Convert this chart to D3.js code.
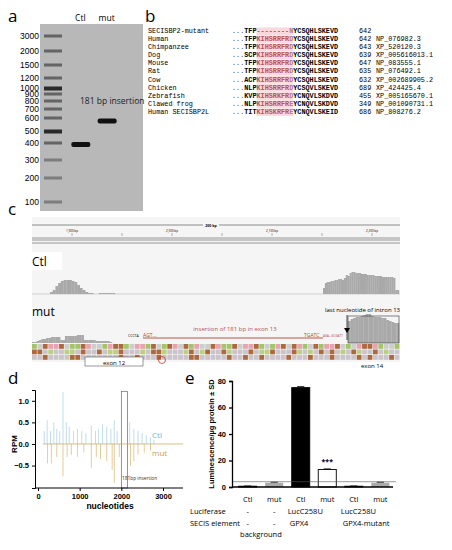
<!DOCTYPE html>
<html><head><meta charset="utf-8">
<script src="https://cdn.jsdelivr.net/npm/d3@7"></script>
<style>body{margin:0;background:#fff}svg{font-family:"Open Sans",Arial,sans-serif}</style>
</head><body><div id="chart"></div>
<script>
// panel a
const ladderSizes = [3000,2000,1500,1200,1000,900,800,700,600,500,400,300,200,100];
const ladderY = [36,51,65,78,88,94,101,109,118,131,143,160,178,202];
const ladderStrong = [1000,500];
const laneNames = ["Ctl","mut"];
const laneBands = [390, 571];
// panel b
const species = ["SECISBP2-mutant","Human","Chimpanzee","Dog","Mouse","Rat","Cow","Chicken","Zebrafish","Clawed frog","Human SECISBP2L"];
const seqPre = ["TFP","TFP","TFP","SCP","TFP","TFP","ACP","NLP","KVP","NLP","TIT"];
const seqMid = ["--------N","KIHSRRFRD","KIHSRRFRD","KIHSRRFRD","KIHSRRFRD","KIHSRRFRD","KIHSRRFRD","KIHSRRFRD","KIHSRKFRD","KIHSRRFRE","KIHSKRFRE"];
const seqPost = ["YCSQHLSKEVD","YCSQHLSKEVD","YCSQHLSKEVD","YCSQHLSKEVD","YCSQHLSKEVD","YCSQHLSKEVD","YCSQHLSKEVD","YCSQVLSKEVD","YCNQVLSKDVD","YCNQVLSKDVD","YCNQVLSKEID"];
const seqEnd = [642,642,643,639,647,635,632,689,455,349,686];
const accession = ["","NP_076982.3","XP_520120.3","XP_005616013.1","NP_083555.1","NP_076492.1","XP_002689905.2","XP_424425.4","XP_005165670.1","NP_001090731.1","NP_808276.2"];
// panel c
const rulerLabels = ["1,900 bp","2,000 bp","2,100 bp","2,200 bp"];
const ctlLeft = [2,4,8,11,13,14,14,14,13,12,9,6,4,2,1,1,0,0,1,1,1,1,1,1];
const ctlRight = [6,11,12,12,13,13,14,14,15,15,14,16,19,18,21,22,22,21,21,21,20,20,20,19,19,19,19,18,18,18,18,17,17,17,17,17,17,16,4,4];
const mutLeft = [1,1,2,3,4,4,5,5,6,6,6,6,3,3,7,7,7,7,7,8,8,8,3,3,3,3,3,2,2,2,2,2,2,1];
const mutRight = [22,24,25,26,26,27,28,29,29,27,26,26,26,25,25,23,22,21,20,20];
const baseRow = "ACGTTGCAAGTCCATGGACTTAGCAGTCGATCCGTAAGCTTGACATGCGTACGATTGCACTGGTACCA";
// panel d
const ctlSpikes = [[150,0.3],[220,0.55],[300,0.3],[380,0.5],[450,0.35],[520,0.3],[600,1.2],[680,0.5],[750,0.4],[850,0.3],[950,0.35],[1050,0.3],[1150,0.25],[1280,0.42],[1380,0.3],[1450,0.35],[1550,0.45],[1650,0.4],[1750,0.35],[1830,0.55],[1900,0.3],[2200,0.5],[2300,0.35],[2400,0.3],[2500,0.25],[2600,0.2],[2700,0.15],[2780,0.1]];
const mutSpikes = [[230,-0.45],[320,-0.45],[450,-0.3],[600,-0.75],[700,-0.3],[800,-0.25],[950,-0.3],[1100,-0.2],[1280,-0.55],[1400,-0.3],[1500,-0.35],[1650,-0.4],[1780,-0.6],[1830,-0.9],[1950,-0.3],[2220,-0.5],[2300,-0.4],[2400,-0.25],[2550,-0.2],[2700,-0.15]];
const dTicksX = [0,1000,2000,3000];
const dTicksY = [-0.5,0,0.5,1.0];
// panel e
const eCats = ["Ctl","mut","Ctl","mut","Ctl","mut"];
const eValues = [0.6,3.2,75,13.2,0.6,3.2];
const eErr = [0.2,0.4,0.8,0.5,0.2,0.4];
const eFill = ["#000","#aaa","#000","#fff","#000","#aaa"];
const luciferase = ["-","-","LucC258U","","LucC258U",""];
const secis = ["-","-","GPX4","","GPX4-mutant",""];
const eTicks = [0,20,40,60,80];

const svg = d3.select("#chart").append("svg").attr("width",452).attr("height",550);
const lab = (t,x,y)=>svg.append("text").attr("x",x).attr("y",y).attr("font-size",17).text(t);

// ---- a
lab("a",8,22);
svg.append("rect").attr("x",40).attr("y",24).attr("width",103).attr("height",187).attr("fill","#b8b8b8");
const ya = d3.scaleOrdinal().domain(ladderSizes).range(ladderY);
svg.append("g").selectAll("text").data(ladderSizes).join("text")
  .attr("x",39).attr("y",d=>ya(d)+3).attr("text-anchor","end").attr("font-size",8.5).attr("font-family","Arial").text(d=>d);
svg.append("g").selectAll("rect").data(ladderSizes).join("rect")
  .attr("x",44).attr("width",18).attr("y",d=>ya(d)-1.5).attr("height",d=>ladderStrong.includes(d)?4:3)
  .attr("fill",d=>ladderStrong.includes(d)?"#111":"#555").attr("opacity",d=>d<=300?0.6:0.85);
const bandY = d3.scaleLog().domain([400,600]).range([143,118]);
const xa = d3.scaleBand().domain(laneNames).range([66,120]).padding(0.05);
svg.append("g").selectAll("rect").data(laneNames).join("rect")
  .attr("x",d=>xa(d)+4).attr("width",19).attr("y",(d,i)=>bandY(laneBands[i])-2.5).attr("height",5).attr("rx",2).attr("fill","#111");
svg.append("g").selectAll("text").data(laneNames).join("text")
  .attr("x",d=>xa(d)+13).attr("y",21).attr("text-anchor","middle").attr("font-size",8.5).text(d=>d);
svg.append("text").attr("x",80).attr("y",104).attr("font-size",8.5).attr("fill","#222").text("181 bp insertion");

// ---- b
lab("b",145,22);
const mono = "Liberation Mono, DejaVu Sans Mono, monospace";
const yb = d3.scaleBand().domain(species).range([27,116]);
const gb = svg.append("g").attr("font-family",mono).attr("font-size",6.8);
gb.selectAll(".nm").data(species).join("text").attr("x",148).attr("y",d=>yb(d)+6).text(d=>d);
const cw = 4.08;
gb.selectAll(".hl").data(species).join("rect").attr("x",232+6*cw).attr("y",d=>yb(d)+0.5).attr("width",9*cw).attr("height",7.6).attr("fill","#fbd9dc");
species.forEach((s,i)=>{
  const t = gb.append("text").attr("x",232).attr("y",yb(s)+6).attr("font-weight","bold");
  t.append("tspan").attr("fill","#666").text("...");
  t.append("tspan").text(seqPre[i]);
  t.append("tspan").attr("fill","#c0504d").text(seqMid[i].slice(0,8));
  t.append("tspan").attr("fill","#b07a9a").text(seqMid[i].slice(8));
  t.append("tspan").text(seqPost[i]);
});
gb.selectAll(".n").data(seqEnd).join("text").attr("x",359).attr("y",(d,i)=>yb(species[i])+6).text(d=>d);
gb.selectAll(".ac").data(accession).join("text").attr("x",376).attr("y",(d,i)=>yb(species[i])+6).text(d=>d);

// ---- c
lab("c",8,215);
svg.append("rect").attr("x",32).attr("y",217).attr("width",368).attr("height",145).attr("fill","#f5f5f5");
svg.append("line").attr("x1",32).attr("x2",400).attr("y1",225).attr("y2",225).attr("stroke","#444").attr("stroke-width",0.6);
svg.append("rect").attr("x",203).attr("y",222).attr("width",16).attr("height",6).attr("fill","#f5f5f5");
svg.append("text").attr("x",211).attr("y",227).attr("text-anchor","middle").attr("font-size",3.5).attr("font-weight","bold").text("200 bp");
const xr = d3.scalePoint().domain(rulerLabels).range([72,372]);
svg.append("g").selectAll("text").data(rulerLabels).join("text").attr("x",d=>xr(d)).attr("y",232).attr("text-anchor","middle").attr("font-size",3).text(d=>d);
svg.append("g").selectAll("line").data(d3.range(7)).join("line").attr("x1",d=>72+d*50).attr("x2",d=>72+d*50).attr("y1",233).attr("y2",236).attr("stroke","#666").attr("stroke-width",0.5);
[238,240,243].forEach(y=>svg.append("line").attr("x1",32).attr("x2",400).attr("y1",y).attr("y2",y).attr("stroke","#555").attr("stroke-width",0.6));
svg.append("rect").attr("x",32).attr("y",252).attr("width",30).attr("height",18).attr("fill","#fff");
svg.append("text").attr("x",32).attr("y",266).attr("font-size",12).text("Ctl");
function cover(data,x0,w,base,scale){
  const x = d3.scaleBand().domain(d3.range(data.length)).range([x0,x0+w]).padding(0);
  svg.append("g").selectAll("rect").data(data).join("rect").attr("x",(d,i)=>x(i)).attr("width",x.bandwidth()+0.2)
    .attr("y",d=>base-d*scale).attr("height",d=>d*scale).attr("fill","#a9a9a9");
}
svg.append("line").attr("x1",32).attr("x2",400).attr("y1",294).attr("y2",294).attr("stroke","#bbb").attr("stroke-width",0.6);
cover(ctlLeft,50,65,294,1);
cover(ctlRight,323,76,294,1);
svg.append("text").attr("x",32).attr("y",316).attr("font-size",12).text("mut");
cover(mutLeft,32,80,343,1);
cover(mutRight,348,51,343,1);
svg.append("rect").attr("x",348).attr("y",316).attr("width",51).attr("height",27).attr("fill","none").attr("stroke","#333").attr("stroke-width",0.6);
const baseCol = {A:"#9bbf5a",C:"#c9c9c9",G:"#a45a2a",T:"#e59aa8"};
const xs = d3.scaleBand().domain(d3.range(baseRow.length)).range([32,400]);
[0,1,2].forEach(r=>{
  svg.append("g").selectAll("rect").data(baseRow.split("")).join("rect")
    .attr("x",(d,i)=>xs((i+r*7)%baseRow.length)).attr("width",xs.bandwidth()-0.6).attr("y",344+r*5.5).attr("height",4.8)
    .attr("fill",d=>r===0?baseCol[d]:(d==="G"?"#a45a2a":d==="A"&&r===1?"#b6cc77":"#c7bfc7")).attr("opacity",0.9);
});
svg.append("text").attr("x",235).attr("y",331).attr("text-anchor","middle").attr("font-size",6).attr("fill","#c0504d").text("insertion of 181 bp in exon 13");
svg.append("line").attr("x1",143).attr("x2",323).attr("y1",338).attr("y2",338).attr("stroke","#b8433a").attr("stroke-width",0.9);
svg.append("text").attr("x",128).attr("y",337).attr("font-size",3.5).text("CCCTA");
svg.append("text").attr("x",143).attr("y",337).attr("font-size",5).attr("fill","#b8433a").text("AGT...");
svg.append("text").attr("x",304).attr("y",337).attr("font-size",5).attr("fill","#b8433a").text("TGATC");
svg.append("text").attr("x",323).attr("y",337).attr("font-size",3).attr("fill","#b8433a").text("AGA...GCGATT");
svg.append("text").attr("x",400).attr("y",312).attr("text-anchor","end").attr("font-size",6).text("last nucleotide of intron 13");
svg.append("line").attr("x1",347).attr("x2",347).attr("y1",315).attr("y2",340).attr("stroke","#000").attr("stroke-width",0.7);
svg.append("path").attr("d","M344,328 L350,328 L347,333 Z").attr("fill","#000");
svg.append("rect").attr("x",85).attr("y",357).attr("width",58).attr("height",9).attr("fill","#fff").attr("stroke","#555").attr("stroke-width",0.6);
svg.append("text").attr("x",114).attr("y",364.5).attr("text-anchor","middle").attr("font-size",6).text("exon 12");
svg.append("circle").attr("cx",162).attr("cy",360).attr("r",3.5).attr("fill","none").attr("stroke","#c0392b").attr("stroke-width",0.8);
svg.append("text").attr("x",372).attr("y",368).attr("text-anchor","middle").attr("font-size",6).text("exon 14");

// ---- d
lab("d",8,384);
const xd = d3.scaleLinear().domain([0,3000]).range([38,163]);
const yd = d3.scaleLinear().domain([-1.02,1.25]).range([488,390]);
svg.append("rect").attr("x",xd(2000)).attr("y",yd(1.22)).attr("width",xd(2150)-xd(2000)).attr("height",yd(-1.02)-yd(1.22)).attr("fill","#fff").attr("stroke","#666").attr("stroke-width",0.7);
svg.append("line").attr("x1",xd(120)).attr("x2",183).attr("y1",yd(0)).attr("y2",yd(0)).attr("stroke","#c9a050").attr("stroke-width",0.7);
svg.append("g").selectAll("line").data(ctlSpikes).join("line").attr("x1",d=>xd(d[0])).attr("x2",d=>xd(d[0])).attr("y1",yd(0)).attr("y2",d=>yd(d[1])).attr("stroke","#8fc3e3").attr("stroke-width",0.7).attr("opacity",0.8);
svg.append("g").selectAll("line").data(mutSpikes).join("line").attr("x1",d=>xd(d[0])).attr("x2",d=>xd(d[0])).attr("y1",yd(0)).attr("y2",d=>yd(d[1])).attr("stroke","#d2a548").attr("stroke-width",0.7).attr("opacity",0.8);
svg.append("g").attr("transform","translate(0,488)").call(d3.axisBottom(xd).tickValues(dTicksX).tickFormat(d3.format("d")).tickSize(3)).call(g=>g.select(".domain").attr("d","M35,0H183"))
  .selectAll("text").attr("font-size",7.5).attr("font-weight","bold").attr("font-family","Arial");
svg.append("g").attr("transform","translate(35,0)").call(d3.axisLeft(yd).tickValues(dTicksY).tickFormat(d3.format(".1f")).tickSize(3))
  .selectAll("text").attr("font-size",7.5).attr("font-weight","bold").attr("font-family","Arial");
svg.append("text").attr("transform","translate(17,444) rotate(-90)").attr("text-anchor","middle").attr("font-size",8).attr("font-weight","bold").attr("font-family","Arial").text("RPM");
svg.append("text").attr("x",110).attr("y",509).attr("text-anchor","middle").attr("font-size",8.5).attr("font-weight","bold").attr("font-family","Arial").text("nucleotides");
svg.append("text").attr("x",152).attr("y",438).attr("font-size",8).attr("fill","#6fb1dc").text("Ctl");
svg.append("text").attr("x",152).attr("y",456).attr("font-size",8).attr("fill","#c9a050").text("mut");
svg.append("text").attr("x",122).attr("y",480).attr("font-size",4.8).attr("fill","#333").text("181bp insertion");

// ---- e
lab("e",185,384);
const xe = d3.scaleBand().domain(d3.range(6)).range([236,392]).paddingInner(0.32).paddingOuter(0.1);
const ye = d3.scaleLinear().domain([0,80]).range([487,381]);
svg.append("g").selectAll("rect").data(eValues).join("rect").attr("x",(d,i)=>xe(i)).attr("width",xe.bandwidth())
  .attr("y",d=>ye(d)).attr("height",d=>ye(0)-ye(d)).attr("fill",(d,i)=>eFill[i]).attr("stroke","#000").attr("stroke-width",(d,i)=>eFill[i]==="#aaa"?0:0.9);
svg.append("g").selectAll("line").data(eValues).join("line").attr("x1",(d,i)=>xe(i)+xe.bandwidth()*0.3).attr("x2",(d,i)=>xe(i)+xe.bandwidth()*0.7)
  .attr("y1",(d,i)=>ye(d+eErr[i])).attr("y2",(d,i)=>ye(d+eErr[i])).attr("stroke","#000").attr("stroke-width",0.8);
svg.append("line").attr("x1",232).attr("x2",396).attr("y1",ye(4)).attr("y2",ye(4)).attr("stroke","#555").attr("stroke-width",0.6);
svg.append("text").attr("x",xe(3)+xe.bandwidth()/2).attr("y",ye(17)).attr("text-anchor","middle").attr("font-size",7).attr("font-weight","bold").text("***");
svg.append("g").attr("transform","translate(232,0)").call(d3.axisLeft(ye).tickValues(eTicks).tickSize(3))
  .call(g=>g.selectAll("path,line").attr("stroke-width",1.3))
  .selectAll("text").attr("font-size",7.5).attr("font-weight","bold").attr("font-family","Arial");
svg.append("line").attr("x1",232).attr("x2",393).attr("y1",487).attr("y2",487).attr("stroke","#000").attr("stroke-width",1.3);
svg.append("text").attr("transform","translate(214,434) rotate(-90)").attr("text-anchor","middle").attr("font-size",7.5).attr("font-weight","bold").attr("font-family","Arial").text("Luminescence/µg protein ± SD");
svg.append("g").selectAll("text").data(eCats).join("text").attr("x",(d,i)=>xe(i)+xe.bandwidth()/2).attr("y",502).attr("text-anchor","middle").attr("font-size",7.5).text(d=>d);
svg.append("g").selectAll("text").data(luciferase).join("text").attr("x",(d,i)=>d==="-"?xe(i)+xe.bandwidth()/2:xe(i)-4).attr("y",514).attr("text-anchor",d=>d==="-"?"middle":"start").attr("font-size",7.5).text(d=>d);
svg.append("g").selectAll("text").data(secis).join("text").attr("x",(d,i)=>d==="-"?xe(i)+xe.bandwidth()/2:xe(i)-2).attr("y",526).attr("text-anchor",d=>d==="-"?"middle":"start").attr("font-size",7.5).text(d=>d);
svg.append("text").attr("x",190).attr("y",514).attr("font-size",7.5).text("Luciferase");
svg.append("text").attr("x",190).attr("y",526).attr("font-size",7.5).text("SECIS element");
svg.append("text").attr("x",(xe(0)+xe(1)+xe.bandwidth())/2).attr("y",537).attr("text-anchor","middle").attr("font-size",7.5).text("background");
</script></body></html>
